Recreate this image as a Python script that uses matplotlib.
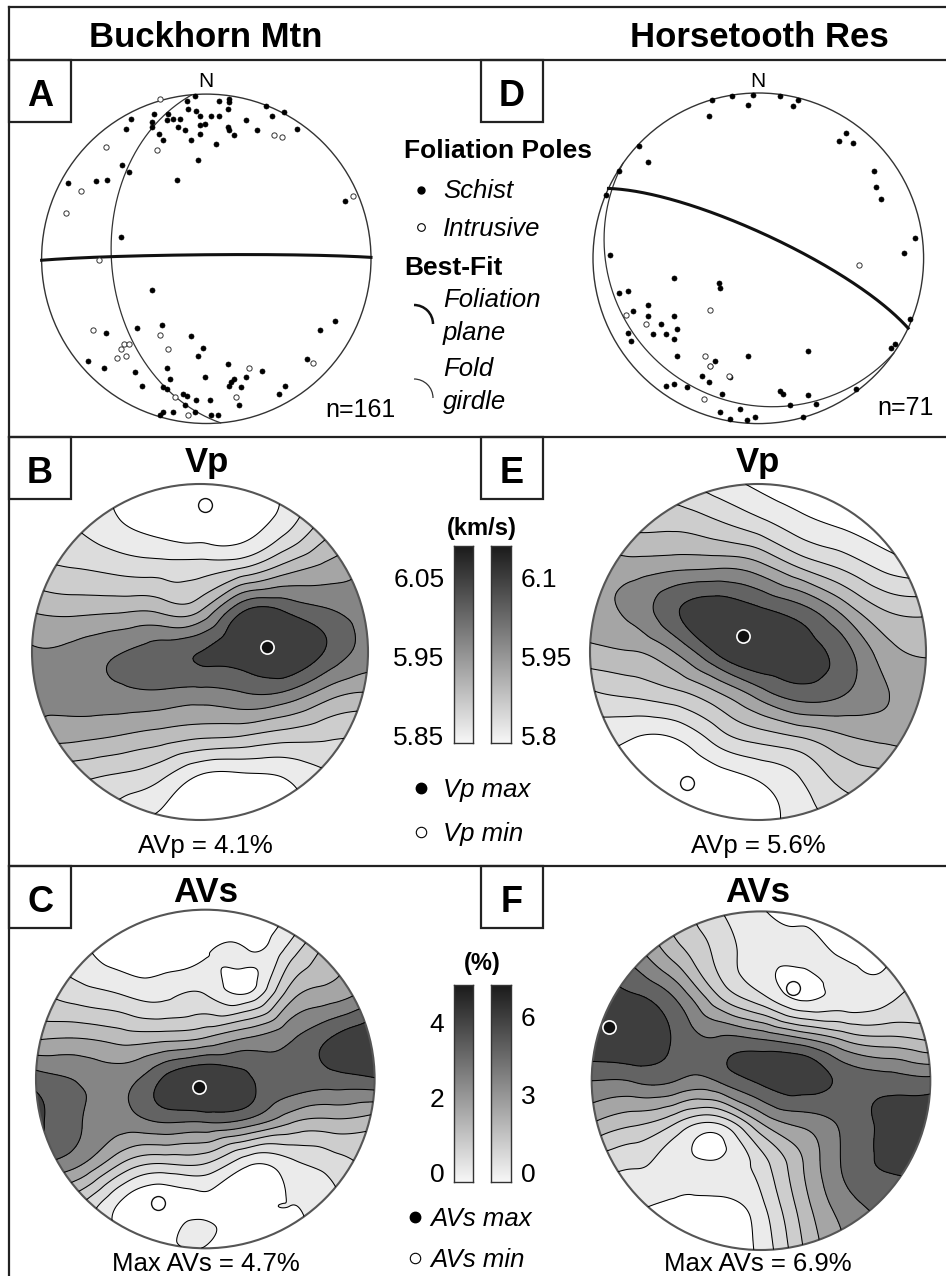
import numpy as np
import matplotlib.pyplot as plt
import matplotlib.tri as mtri
from matplotlib.patches import Circle, Rectangle, Arc
from matplotlib.colors import LinearSegmentedColormap

plt.rcParams['font.family'] = ['Liberation Sans', 'DejaVu Sans']

# ---------------- data ----------------
sites = ['Buckhorn Mtn', 'Horsetooth Res']
n_labels = ['n=161', 'n=71']

# foliation poles, equal-area lower hemisphere, projected x (E) / y (N), unit net
buck_schist = [
    (-0.07, 0.99), (-0.12, 0.96), (0.08, 0.96), (0.14, 0.97), (0.14, 0.95), (0.36, 0.93), (0.47, 0.89),
    (-0.32, 0.88), (-0.23, 0.88), (-0.11, 0.91), (-0.06, 0.90), (0.13, 0.91), (-0.46, 0.85), (-0.33, 0.83),
    (-0.24, 0.84), (-0.20, 0.85), (-0.16, 0.85), (-0.04, 0.87), (0.03, 0.87), (0.08, 0.87), (0.24, 0.84),
    (0.40, 0.87), (-0.49, 0.79), (-0.33, 0.80), (-0.17, 0.80), (-0.13, 0.78), (-0.04, 0.81), (-0.01, 0.82),
    (0.13, 0.80), (0.14, 0.78), (0.31, 0.78), (0.55, 0.79), (-0.29, 0.76), (-0.26, 0.72), (-0.09, 0.72),
    (-0.04, 0.76), (0.17, 0.75), (0.06, 0.70), (-0.05, 0.60), (-0.51, 0.57), (-0.47, 0.53), (-0.18, 0.48),
    (-0.84, 0.46), (-0.67, 0.47), (-0.60, 0.48), (0.84, 0.35), (-0.52, 0.13),
    (-0.33, -0.19), (0.78, -0.38), (0.69, -0.43), (-0.42, -0.42), (-0.27, -0.40), (-0.61, -0.45),
    (-0.09, -0.47), (-0.02, -0.54), (-0.05, -0.59), (-0.72, -0.62), (-0.62, -0.66), (-0.43, -0.69),
    (-0.24, -0.66), (0.13, -0.64), (0.34, -0.68), (0.61, -0.61), (-0.39, -0.77), (-0.22, -0.73),
    (-0.01, -0.72), (0.15, -0.75), (0.17, -0.73), (0.14, -0.77), (0.24, -0.72), (0.21, -0.78),
    (-0.26, -0.78), (-0.24, -0.79), (-0.14, -0.82), (-0.12, -0.83), (-0.06, -0.86), (0.02, -0.86),
    (0.44, -0.82), (0.48, -0.77), (0.20, -0.89), (-0.13, -0.89), (-0.26, -0.93), (-0.20, -0.93),
    (-0.28, -0.95), (-0.07, -0.93), (0.03, -0.95), (0.07, -0.95)]
buck_intrusive = [
    (-0.28, 0.97), (-0.61, 0.68), (-0.30, 0.66), (0.41, 0.75), (0.46, 0.74), (-0.76, 0.41), (-0.85, 0.28),
    (0.89, 0.38), (-0.65, -0.01), (-0.69, -0.43), (-0.28, -0.46), (-0.23, -0.55), (-0.50, -0.52),
    (-0.47, -0.52), (-0.52, -0.55), (-0.54, -0.60), (-0.49, -0.59), (0.26, -0.66), (0.18, -0.84),
    (-0.19, -0.84), (-0.11, -0.95), (0.65, -0.63)]
horse_schist = [
    (-0.28, 0.96), (-0.16, 0.98), (-0.03, 0.99), (0.13, 0.98), (0.24, 0.96), (-0.06, 0.93), (0.21, 0.92),
    (-0.30, 0.86), (0.53, 0.76), (0.49, 0.71), (0.57, 0.70), (-0.67, 0.58), (0.70, 0.53), (0.71, 0.43),
    (0.74, 0.36), (-0.92, 0.38), (0.95, 0.12), (0.88, 0.03), (-0.90, 0.02), (-0.51, -0.12), (-0.24, -0.15),
    (-0.23, -0.18), (-0.84, -0.21), (-0.79, -0.20), (-0.67, -0.28), (-0.76, -0.32), (-0.67, -0.35),
    (-0.51, -0.35), (-0.59, -0.40), (-0.49, -0.43), (-0.79, -0.45), (-0.64, -0.46), (-0.56, -0.46),
    (-0.51, -0.49), (-0.77, -0.50), (-0.49, -0.59), (-0.06, -0.59), (0.30, -0.56), (-0.26, -0.62),
    (-0.29, -0.65), (-0.34, -0.71), (-0.30, -0.75), (-0.17, -0.72), (-0.56, -0.77), (-0.51, -0.76),
    (-0.43, -0.78), (-0.22, -0.82), (0.13, -0.80), (0.15, -0.82), (0.30, -0.83), (0.59, -0.79),
    (0.80, -0.54), (0.83, -0.52), (0.92, -0.37), (0.19, -0.89), (0.35, -0.88), (-0.23, -0.93),
    (-0.11, -0.91), (-0.17, -0.97), (-0.07, -0.98), (-0.02, -0.96), (0.27, -0.96), (-0.84, 0.53),
    (-0.72, 0.68)]
horse_intrusive = [
    (0.61, -0.04), (-0.29, -0.31), (-0.80, -0.34), (-0.68, -0.40), (-0.32, -0.59), (-0.29, -0.65),
    (-0.18, -0.71), (-0.33, -0.85)]

# best-fit planes (strike, dip; right-hand rule)
foliation_planes = [(269.5, 88), (295, 78)]
girdle_planes = [(175, 42), (125, 14)]

# seismic property fields on a 9x9 node grid (x: -1..1 W->E, y: 1..-1 N->S), in contour-band units,
# plus a few extra nodes (x, y, value) for small closed islands
vp_buck = [
    [2.0, 1.2, 0.5, -0.2, -0.4, -0.2, 0.8, 2.0, 3.5],
    [2.0, 1.5, 0.7, 0.1, -0.3, 0.0, 1.1, 3.0, 4.2],
    [2.8, 2.5, 2.2, 2.0, 2.0, 2.5, 3.9, 4.8, 5.6],
    [4.4, 4.2, 4.3, 4.3, 4.4, 7.3, 7.4, 6.6, 6.0],
    [5.6, 5.8, 6.4, 7.0, 7.5, 8.2, 8.6, 7.4, 6.1],
    [5.7, 5.9, 6.2, 6.3, 6.1, 6.4, 6.3, 5.0, 4.4],
    [5.2, 4.8, 4.5, 4.1, 3.7, 3.5, 3.0, 2.7, 2.5],
    [3.0, 2.7, 2.3, 1.7, 0.3, 0.2, 0.5, 1.3, 2.0],
    [3.0, 2.2, 1.2, 0.3, -0.2, -0.2, 0.3, 1.0, 1.8]]
vp_horse = [
    [3.0, 2.5, 1.8, 1.0, 0.3, -0.3, -0.8, -1.2, -1.5],
    [4.2, 3.3, 3.3, 2.8, 2.0, 1.0, 0.4, -0.2, -0.8],
    [4.8, 5.0, 5.3, 5.45, 5.0, 3.5, 2.4, 1.3, 0.8],
    [5.0, 5.8, 7.3, 8.2, 7.7, 6.9, 5.2, 3.5, 3.2],
    [4.2, 4.45, 5.5, 7.6, 8.5, 8.0, 7.0, 5.0, 4.4],
    [2.3, 2.7, 3.2, 4.3, 5.9, 7.0, 6.6, 5.6, 5.0],
    [1.0, 0.6, 0.6, 2.0, 3.0, 3.6, 4.4, 4.8, 4.9],
    [0.3, 0.0, -0.3, 0.0, 0.6, 1.5, 2.8, 3.2, 4.0],
    [0.0, -0.3, -0.2, -0.3, 0.0, 1.0, 1.8, 2.5, 3.2]]
avs_buck = [
    [1.2, 0.5, 0.0, 0.0, 0.2, 0.2, 0.4, 2.5, 4.5],
    [1.5, 0.8, 0.0, 0.1, 0.4, 0.6, 2.0, 4.0, 5.0],
    [2.8, 2.0, 1.5, 1.2, 1.5, 0.6, 4.0, 5.0, 6.0],
    [4.3, 4.4, 4.0, 4.0, 4.4, 5.4, 6.3, 7.5, 8.3],
    [7.0, 6.4, 6.1, 7.6, 8.6, 7.7, 7.0, 7.1, 7.4],
    [7.8, 6.6, 6.0, 6.6, 6.6, 6.2, 4.7, 4.3, 4.0],
    [6.6, 5.7, 3.5, 2.5, 2.5, 0.7, 1.2, 2.0, 2.8],
    [4.0, 2.5, 0.3, -0.3, 0.2, 0.3, 0.5, 1.2, 2.5],
    [3.5, 2.5, 1.0, 0.2, 0.4, 0.1, 0.2, 1.0, 2.0]]
avs_buck_extra = [(0.21, 0.59, 0.0), (0.22, 0.71, 0.8), (-0.05, -0.88, 0.8), (0.22, -0.86, 0.1)]
avs_horse = [
    [6.0, 4.5, 3.0, 1.6, 0.6, 0.0, -0.3, 0.0, 0.5],
    [7.5, 6.0, 4.0, 2.2, 0.9, 0.8, 0.3, 0.3, 1.2],
    [8.0, 7.6, 6.3, 3.5, 1.7, 0.2, 0.8, 1.2, 2.0],
    [8.3, 8.3, 7.3, 6.6, 6.4, 5.5, 4.2, 3.7, 3.3],
    [6.5, 6.6, 6.5, 6.6, 7.7, 8.1, 7.2, 7.0, 6.8],
    [4.5, 3.7, 2.5, 1.6, 4.5, 5.8, 6.8, 7.7, 8.0],
    [2.0, 1.6, 1.0, 0.7, 2.0, 4.5, 6.7, 7.6, 7.8],
    [1.2, 0.6, 0.2, 0.1, 1.2, 4.0, 6.0, 6.8, 7.2],
    [1.0, 0.3, 0.0, 0.0, 0.8, 3.5, 5.5, 6.5, 7.0]]
avs_horse_extra = [(0.24, 0.56, 0.0), (0.45, 0.62, 0.8), (-0.27, -0.39, 0.2), (-0.27, -0.57, 0.85),
                   (-0.33, 0.12, 6.8)]

vp_max_pts = [(0.40, 0.03), (-0.09, 0.095)]
vp_min_pts = [(0.03, 0.875), (-0.42, -0.78)]
avs_max_pts = [(-0.04, -0.045), (-0.90, 0.32)]
avs_min_pts = [(-0.28, -0.73), (0.19, 0.55)]

avp_labels = ['AVp = 4.1%', 'AVp = 5.6%']
avs_labels = ['Max AVs = 4.7%', 'Max AVs = 6.9%']

vp_ticks = [[5.85, 5.95, 6.05], [5.8, 5.95, 6.1]]
vp_ticklabels = [['5.85', '5.95', '6.05'], ['5.8', '5.95', '6.1']]
avs_ticks = [[0, 2, 4], [0, 3, 6]]
avs_ticklabels = [['0', '2', '4'], ['0', '3', '6']]

band_colors = ['#ffffff', '#ebebeb', '#dcdcdc', '#cdcdcd', '#bcbcbc', '#a5a5a5', '#858585', '#636363', '#3e3e3e']

# ---------------- figure ----------------
W, H = 946, 1276
fig = plt.figure(figsize=(W / 100, H / 100), dpi=100)

ov = fig.add_axes([0, 0, 1, 1])
ov.set_xlim(0, W)
ov.set_ylim(H, 0)
ov.axis('off')

FRAME = '#222222'
# frame lines
ov.plot([9, 9], [7, H + 5], color=FRAME, lw=1.6, clip_on=False)
for yy in [7, 60, 437, 866]:
    ov.plot([9, W + 5], [yy, yy], color=FRAME, lw=1.6, clip_on=False)

# panel letters
for letter, x0, y0 in [('A', 9, 60), ('D', 481, 60), ('B', 9, 437), ('E', 481, 437), ('C', 9, 866), ('F', 481, 866)]:
    ov.add_patch(Rectangle((x0, y0), 62, 62, fill=False, ec=FRAME, lw=1.6))
    ov.text(x0 + 31, y0 + 46, letter, ha='center', va='baseline', fontsize=26, fontweight='bold')

# site titles
ov.text(206, 47, sites[0], ha='center', va='baseline', fontsize=25, fontweight='bold')
ov.text(759, 47, sites[1], ha='center', va='baseline', fontsize=25, fontweight='bold')


def net_axes(cx, cy, r, half):
    ax = fig.add_axes([(cx - half) / W, 1 - (cy + half) / H, 2 * half / W, 2 * half / H])
    lim = half / r
    ax.set_xlim(-lim, lim)
    ax.set_ylim(-lim, lim)
    ax.set_aspect('equal')
    ax.axis('off')
    ax.patch.set_visible(False)
    return ax


def proj(trend, plunge):
    t = np.radians(trend)
    p = np.radians(plunge)
    r = np.sqrt(2) * np.sin((np.pi / 2 - p) / 2)
    return r * np.sin(t), r * np.cos(t)


def great_circle(strike, dip):
    ph = np.radians(np.linspace(0, 180, 361))
    d = np.radians(dip)
    plunge = np.degrees(np.arcsin(np.sin(d) * np.sin(ph)))
    trend = strike + np.degrees(np.arctan2(np.cos(d) * np.sin(ph), np.cos(ph)))
    return proj(trend, plunge)


# --- stereonets (A, D) ---
net_specs = [(206.3, 258.8, 164.7, buck_schist, buck_intrusive),
             (758.3, 258.3, 165.3, horse_schist, horse_intrusive)]
for i, (cx, cy, r, schist, intr) in enumerate(net_specs):
    ax = net_axes(cx, cy, r, 176)
    ax.add_patch(Circle((0, 0), 1, fill=False, ec='#333333', lw=1.0))
    gx_, gy_ = great_circle(*girdle_planes[i])
    ax.plot(gx_, gy_, color='#333333', lw=0.9)
    fx_, fy_ = great_circle(*foliation_planes[i])
    ax.plot(fx_, fy_, color='#111111', lw=2.2)
    s = np.array(schist)
    ax.plot(s[:, 0], s[:, 1], 'o', ms=3.6, mfc='black', mec='black', mew=0.5)
    o = np.array(intr)
    ax.plot(o[:, 0], o[:, 1], 'o', ms=3.8, mfc='white', mec='#333333', mew=0.7)
    ov.text(cx, 87, 'N', ha='center', va='baseline', fontsize=15)

ov.text(360, 417, n_labels[0], ha='center', va='baseline', fontsize=18)
ov.text(906, 415, n_labels[1], ha='center', va='baseline', fontsize=18)

# stereonet legend
ov.text(404, 158, 'Foliation Poles', ha='left', va='baseline', fontsize=19, fontweight='bold')
ov.plot(421, 190, 'o', ms=5, mfc='black', mec='black')
ov.text(443, 198, 'Schist', ha='left', va='baseline', fontsize=18.5, fontstyle='italic')
ov.plot(421, 227, 'o', ms=5.5, mfc='white', mec='black', mew=0.8)
ov.text(443, 236, 'Intrusive', ha='left', va='baseline', fontsize=18.5, fontstyle='italic')
ov.text(404, 275, 'Best-Fit', ha='left', va='baseline', fontsize=19, fontweight='bold')
ov.add_patch(Arc((414, 324), 38, 38, theta1=270, theta2=360, color='#111111', lw=1.8))
ov.text(443, 307, 'Foliation', ha='left', va='baseline', fontsize=18.5, fontstyle='italic')
ov.text(443, 340, 'plane', ha='left', va='baseline', fontsize=18.5, fontstyle='italic')
ov.add_patch(Arc((414, 398), 38, 38, theta1=270, theta2=360, color='#333333', lw=0.9))
ov.text(443, 376, 'Fold', ha='left', va='baseline', fontsize=18.5, fontstyle='italic')
ov.text(443, 409, 'girdle', ha='left', va='baseline', fontsize=18.5, fontstyle='italic')

# --- contoured pole figures ---
gxs = np.linspace(-1, 1, 9)
gys = np.linspace(1, -1, 9)
GX, GY = np.meshgrid(gxs, gys)
fill_levels = [-20, 0.5, 1.5, 2.5, 3.5, 4.5, 5.5, 6.5, 7.5, 20]
line_levels = [0.5, 1.5, 2.5, 3.5, 4.5, 5.5, 6.5, 7.5]


def contour_panel(cx, cy, r, grid, extra, pmax, pmin):
    ax = net_axes(cx, cy, r, 178)
    xs = list(GX.ravel()) + [e[0] for e in extra]
    ys = list(GY.ravel()) + [e[1] for e in extra]
    z = np.array(list(np.asarray(grid, dtype=float).ravel()) + [e[2] for e in extra])
    tri = mtri.Triangulation(xs, ys)
    interp = mtri.CubicTriInterpolator(tri, z, kind='min_E')
    tri_f, z_f = mtri.UniformTriRefiner(tri).refine_field(z, triinterpolator=interp, subdiv=5)
    disk = Circle((0, 0), 1, transform=ax.transData, fc='none', ec='none')
    ax.add_patch(disk)
    cf = ax.tricontourf(tri_f, z_f, levels=fill_levels, colors=band_colors)
    cf.set_clip_path(disk)
    cl = ax.tricontour(tri_f, z_f, levels=line_levels, colors='black', linewidths=0.75)
    cl.set_clip_path(disk)
    ax.add_patch(Circle((0, 0), 1, fill=False, ec='#555555', lw=1.5))
    ax.plot(pmax[0], pmax[1], 'o', ms=9.5, mfc='#111111', mec='white', mew=1.2)
    ax.plot(pmin[0], pmin[1], 'o', ms=10, mfc='white', mec='#111111', mew=1.0)
    return ax


contour_panel(200, 652, 168, vp_buck, [], vp_max_pts[0], vp_min_pts[0])
contour_panel(758, 652, 168, vp_horse, [], vp_max_pts[1], vp_min_pts[1])
contour_panel(205.3, 1079, 169.3, avs_buck, avs_buck_extra, avs_max_pts[0], avs_min_pts[0])
contour_panel(761, 1080.7, 169.3, avs_horse, avs_horse_extra, avs_max_pts[1], avs_min_pts[1])

ov.text(207, 472, 'Vp', ha='center', va='baseline', fontsize=25, fontweight='bold')
ov.text(758, 472, 'Vp', ha='center', va='baseline', fontsize=25, fontweight='bold')
ov.text(206, 902, 'AVs', ha='center', va='baseline', fontsize=25, fontweight='bold')
ov.text(758, 902, 'AVs', ha='center', va='baseline', fontsize=25, fontweight='bold')
ov.text(205, 853, avp_labels[0], ha='center', va='baseline', fontsize=18.5)
ov.text(758, 853, avp_labels[1], ha='center', va='baseline', fontsize=18.5)
ov.text(206, 1271, avs_labels[0], ha='center', va='baseline', fontsize=18.5)
ov.text(758, 1271, avs_labels[1], ha='center', va='baseline', fontsize=18.5)

# --- colour bars ---
bar_cmap = LinearSegmentedColormap.from_list('bar', ['#f7f7f7', '#1b1b1b'])


def colour_bar(x0, x1, y0, y1, vmin, vmax, ticks, labels, side):
    ax = fig.add_axes([x0 / W, 1 - y1 / H, (x1 - x0) / W, (y1 - y0) / H])
    grad = np.linspace(vmin, vmax, 256).reshape(-1, 1)
    ax.imshow(grad, cmap=bar_cmap, aspect='auto', origin='lower', extent=[0, 1, vmin, vmax])
    ax.set_xlim(0, 1)
    ax.set_ylim(vmin, vmax)
    ax.set_xticks([])
    ax.set_yticks(ticks)
    ax.set_yticklabels(labels)
    ax.yaxis.set_ticks_position(side)
    ax.tick_params(axis='y', length=0, labelsize=19, pad=7)
    for sp in ax.spines.values():
        sp.set_linewidth(1.0)
        sp.set_color('#333333')


colour_bar(454, 473, 546, 743, 5.84, 6.09, vp_ticks[0], vp_ticklabels[0], 'left')
colour_bar(491, 511, 546, 743, 5.785, 6.16, vp_ticks[1], vp_ticklabels[1], 'right')
colour_bar(454, 473, 985, 1182, -0.24, 5.01, avs_ticks[0], avs_ticklabels[0], 'left')
colour_bar(491, 511, 985, 1182, -0.35, 7.23, avs_ticks[1], avs_ticklabels[1], 'right')

ov.text(482, 535, '(km/s)', ha='center', va='baseline', fontsize=17, fontweight='bold')
ov.text(482, 970, '(%)', ha='center', va='baseline', fontsize=17, fontweight='bold')

# extreme-value legends
ov.plot(421, 788, 'o', ms=7.5, mfc='black', mec='black')
ov.text(443, 797, 'Vp max', ha='left', va='baseline', fontsize=18.5, fontstyle='italic')
ov.plot(421, 832, 'o', ms=7.5, mfc='white', mec='black', mew=0.8)
ov.text(443, 841, 'Vp min', ha='left', va='baseline', fontsize=18.5, fontstyle='italic')
ov.plot(415, 1217, 'o', ms=7.5, mfc='black', mec='black')
ov.text(430, 1226, 'AVs max', ha='left', va='baseline', fontsize=18.5, fontstyle='italic')
ov.plot(415, 1258, 'o', ms=7.5, mfc='white', mec='black', mew=0.8)
ov.text(430, 1267, 'AVs min', ha='left', va='baseline', fontsize=18.5, fontstyle='italic')

fig.savefig('out.png', dpi=100)
